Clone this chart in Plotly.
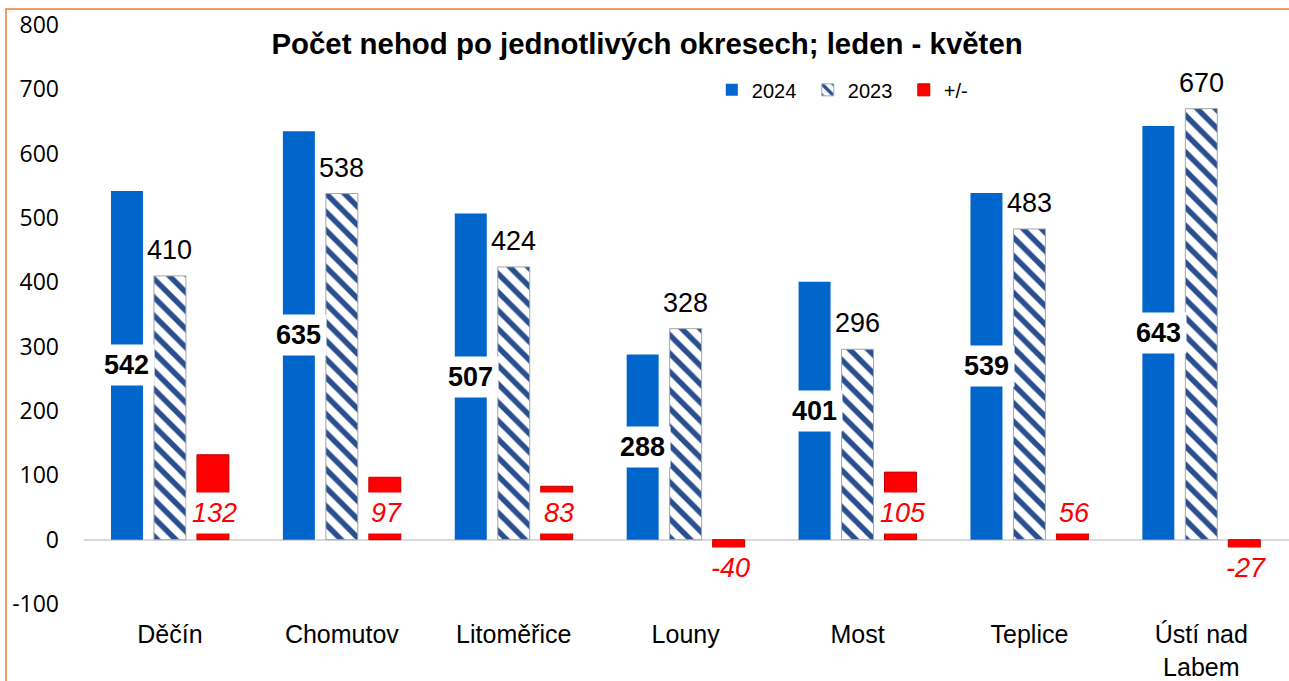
import plotly.graph_objects as go

categories = ["Děčín", "Chomutov", "Litoměřice", "Louny", "Most", "Teplice", "Ústí nad<br>Labem"]
v2024 = [542, 635, 507, 288, 401, 539, 643]
v2023 = [410, 538, 424, 328, 296, 483, 670]
diff = [132, 97, 83, -40, 105, 56, -27]
y_ticks = [-100, 0, 100, 200, 300, 400, 500, 600, 700, 800]
y_tick_labels = ["-100", "0", "100", "200", "300", "400", "500", "600", "700", "800"]

FONT = "Liberation Sans, Arial, sans-serif"

fig = go.Figure()
fig.add_trace(go.Bar(name="2024", x=categories, y=v2024,
                     marker=dict(color="#0066CC", line=dict(width=0))))
fig.add_trace(go.Bar(name="2023", x=categories, y=v2023,
                     marker=dict(color="white",
                                 line=dict(color="#A6A6A6", width=1),
                                 pattern=dict(shape="\\", fgcolor="#2A4F90", bgcolor="white",
                                              fgopacity=1, size=13, solidity=0.42))))
fig.add_trace(go.Bar(name="+/-", x=categories, y=diff,
                     marker=dict(color="#FF0000", line=dict(color="#C00000", width=1))))

ann = []
for c, a, b, d in zip(categories, v2024, v2023, diff):
    ann.append(dict(x=c, y=a / 2, xshift=-43, text=f"<b>{a}</b>", showarrow=False,
                    font=dict(family=FONT, size=27, color="black"),
                    bgcolor="white", borderpad=5))
    ann.append(dict(x=c, y=b, yshift=26, text=str(b), showarrow=False,
                    font=dict(family=FONT, size=27, color="black")))
    ann.append(dict(x=c, y=0, xshift=45, yshift=27 if d >= 0 else -28,
                    text=f"<i>{d}</i>", showarrow=False,
                    font=dict(family=FONT, size=27, color="#FF0000"),
                    bgcolor="white", borderpad=5))

fig.update_layout(
    width=1289, height=681,
    margin=dict(l=84, r=0, t=25, b=77, autoexpand=False),
    paper_bgcolor="white", plot_bgcolor="white",
    barmode="group", bargap=0.25, bargroupgap=0.256,
    title=dict(text="<b>Počet nehod po jednotlivých okresech; leden - květen</b>",
               x=0.502, xref="container", xanchor="center",
               y=1 - 44 / 681, yref="container", yanchor="middle",
               font=dict(family=FONT, size=29.4, color="black")),
    legend=dict(orientation="h", x=0.521, xanchor="left", y=0.888, yanchor="middle",
                font=dict(family=FONT, size=20, color="black"),
                bgcolor="rgba(0,0,0,0)", itemwidth=30,
                entrywidth=51, entrywidthmode="pixels"),
    annotations=ann,
    font=dict(family=FONT, color="black"),
)
fig.update_yaxes(range=[-100, 800], tickvals=y_ticks, ticktext=y_tick_labels,
                 showgrid=False, showline=False, automargin=False,
                 zeroline=True, zerolinecolor="#D9D9D9", zerolinewidth=2,
                 ticks="", ticklabelstandoff=24,
                 tickfont=dict(family="Open Sans, Liberation Sans, sans-serif", size=23, color="black"))
fig.update_xaxes(range=[-0.5, 6.51], showgrid=False, showline=False, ticks="",
                 automargin=False, ticklabelstandoff=13,
                 tickfont=dict(family=FONT, size=25, color="black"))

fig.add_shape(type="rect", xref="paper", yref="paper",
              x0=(6 - 84) / 1205, x1=(1300 - 84) / 1205,
              y0=-0.3, y1=(604 - 9) / 579,
              line=dict(color="#ED7D31", width=1.5), fillcolor="rgba(0,0,0,0)", layer="below")

fig.write_html("out.html", config={"displayModeBar": False},
               post_script="document.body.style.margin='0';document.body.style.overflow='hidden';")
